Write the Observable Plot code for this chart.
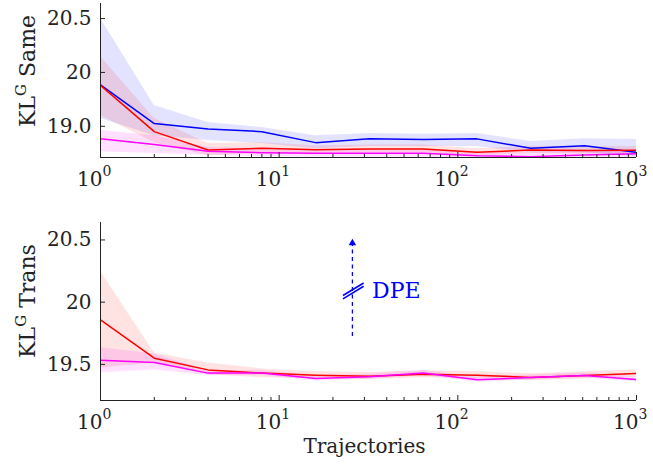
<!DOCTYPE html>
<html><head><meta charset="utf-8">
<script src="https://cdn.jsdelivr.net/npm/d3@7"></script>
<script src="https://cdn.jsdelivr.net/npm/@observablehq/plot@0.6"></script>
<style>
body{margin:0;background:#fff;}
#chart{width:653px;height:465px;}
svg{display:block;}
</style></head><body><div id="chart"></div>
<script>
// ---------- data ----------
const trajectories = [1, 2, 4, 8, 16, 32, 64, 128, 256, 512, 1000];

// Top panel: KL^G Same
const sameBlue   = [19.885, 19.525, 19.474, 19.45, 19.348, 19.383, 19.376, 19.383, 19.295, 19.32, 19.258];
const sameBlueLo = [19.572, 19.413, 19.367, 19.339, 19.292, 19.311, 19.311, 19.311, 19.255, 19.255, 19.218];
const sameBlueHi = [20.503, 19.693, 19.534, 19.488, 19.413, 19.432, 19.427, 19.432, 19.358, 19.385, 19.376];
const sameRed    = [19.88, 19.45, 19.28, 19.295, 19.283, 19.29, 19.29, 19.258, 19.28, 19.275, 19.277];
const sameRedLo  = [19.60, 19.348, 19.227, 19.246, 19.25, 19.256, 19.256, 19.225, 19.247, 19.242, 19.244];
const sameRedHi  = [20.149, 19.572, 19.339, 19.348, 19.318, 19.325, 19.325, 19.292, 19.314, 19.31, 19.312];
const sameMag    = [19.383, 19.33, 19.267, 19.255, 19.25, 19.25, 19.25, 19.227, 19.218, 19.233, 19.246];
const sameMagLo  = [19.264, 19.246, 19.23, 19.218, 19.213, 19.213, 19.213, 19.19, 19.18, 19.196, 19.21];
const sameMagHi  = [19.46, 19.413, 19.304, 19.292, 19.287, 19.287, 19.287, 19.264, 19.255, 19.27, 19.282];

// Bottom panel: KL^G Trans
const transRed   = [19.858, 19.55, 19.456, 19.43, 19.413, 19.405, 19.42, 19.413, 19.395, 19.41, 19.427];
const transRedLo = [19.472, 19.512, 19.416, 19.392, 19.385, 19.378, 19.392, 19.385, 19.368, 19.382, 19.399];
const transRedHi = [20.248, 19.592, 19.512, 19.464, 19.443, 19.435, 19.45, 19.443, 19.425, 19.44, 19.457];
const transMag   = [19.533, 19.515, 19.43, 19.43, 19.386, 19.40, 19.43, 19.376, 19.395, 19.41, 19.378];
const transMagLo = [19.432, 19.456, 19.41, 19.41, 19.366, 19.38, 19.41, 19.356, 19.375, 19.39, 19.358];
const transMagHi = [19.634, 19.584, 19.452, 19.452, 19.408, 19.42, 19.452, 19.398, 19.415, 19.43, 19.4];

// axis ticks / labels
const xMajor = [1, 10, 100, 1000];
const xMinor = [2,3,4,5,6,7,8,9,20,30,40,50,60,70,80,90,200,300,400,500,600,700,800,900];
const yTicks = [19.5, 20, 20.5];
const sameTickLabels  = ["19.0", "20", "20.5"];
const transTickLabels = ["19.5", "20", "20.5"];
const yDomain = [19.21, 20.64];
const xLabel = "Trajectories";

// annotation (bottom panel, data coordinates)
const dpeShaft = [{x: 25.7, y1: 19.728, y2: 20.48}];
const dpeHead  = [{x: 25.7, y: 20.475}];
const dpeBreak = [{x1: 22.75, y1: 20.026, x2: 29.7, y2: 20.128}, {x1: 22.75, y1: 20.054, x2: 29.7, y2: 20.154}];
const dpeLabel = [{x: 33.1, y: 20.032, text: "DPE"}];

// ---------- build ----------
const FONT = "DejaVu Serif";
const W = 653, ML = 100, MR = 17;
const INK = "#222";

function rows(name, color, opacity, y, lo, hi) {
  return {color, opacity, data: trajectories.map((x, i) => ({x, y: y[i], lo: lo[i], hi: hi[i], name}))};
}

function panel({height, marginTop, marginBottom, series, tickLabels, extra = []}) {
  const frameH = height - marginTop - marginBottom;
  const frameW = W - ML - MR;
  const labelMap = new Map(yTicks.map((t, i) => [t, tickLabels[i]]));
  const marks = [];
  for (const s of series) marks.push(Plot.areaY(s.data, {x: "x", y1: "lo", y2: "hi", fill: s.color, fillOpacity: s.opacity, clip: true}));
  for (const s of series) marks.push(Plot.lineY(s.data, {x: "x", y: "y", stroke: s.color, strokeWidth: 1.5, clip: true}));
  marks.push(
    Plot.ruleX([trajectories[0]], {stroke: INK, strokeWidth: 1}),
    Plot.ruleY([yDomain[0]], {stroke: INK, strokeWidth: 1}),
    Plot.tickX(xMajor, {x: d => d, insetTop: frameH - 5, stroke: INK}),
    Plot.tickX(xMinor, {x: d => d, insetTop: frameH - 3, stroke: INK}),
    Plot.tickY(yTicks, {y: d => d, insetRight: frameW - 5, stroke: INK}),
    Plot.text(yTicks, {y: d => d, text: d => labelMap.get(d), frameAnchor: "left", dx: -9, textAnchor: "end", lineAnchor: "middle", fontSize: 20, fill: INK}),
    Plot.text(xMajor, {x: d => d, text: () => "10", frameAnchor: "bottom", dx: 2, dy: 28, textAnchor: "end", lineAnchor: "bottom", fontSize: 20, fill: INK}),
    Plot.text(xMajor, {x: d => d, text: d => String(Math.round(Math.log10(d))), frameAnchor: "bottom", dx: 2, dy: 18, textAnchor: "start", lineAnchor: "bottom", fontSize: 14, fill: INK}),
    ...extra
  );
  return Plot.plot({
    width: W, height, marginTop, marginBottom, marginLeft: ML, marginRight: MR,
    x: {type: "log", domain: [1, 1000], axis: null},
    y: {domain: yDomain, axis: null},
    style: {fontFamily: FONT, background: "white", overflow: "visible"},
    marks
  });
}

function addYLabel(svg, cy, word) {
  const t = d3.select(svg).append("text")
    .attr("transform", `translate(35,${cy}) rotate(-90)`)
    .attr("text-anchor", "middle")
    .attr("fill", INK)
    .style("font-family", FONT)
    .style("font-size", "22px");
  t.append("tspan").text("KL");
  t.append("tspan").attr("dy", -9).style("font-size", "15px").text("G");
  t.append("tspan").attr("dy", 9).text("\u00a0" + word);
}

const topPanel = panel({
  height: 200, marginTop: 3, marginBottom: 43,
  tickLabels: sameTickLabels,
  series: [
    rows("blue", "#0000ff", 0.11, sameBlue, sameBlueLo, sameBlueHi),
    rows("red", "#ff0000", 0.11, sameRed, sameRedLo, sameRedHi),
    rows("mag", "#ff00ff", 0.12, sameMag, sameMagLo, sameMagHi)
  ]
});
addYLabel(topPanel, 71, "Same");

const bottomPanel = panel({
  height: 265, marginTop: 22, marginBottom: 65,
  tickLabels: transTickLabels,
  series: [
    rows("red", "#ff0000", 0.11, transRed, transRedLo, transRedHi),
    rows("mag", "#ff00ff", 0.12, transMag, transMagLo, transMagHi)
  ],
  extra: [
    Plot.link(dpeShaft, {x1: "x", x2: "x", y1: "y1", y2: "y2", stroke: "#0000ff", strokeWidth: 1.3, strokeDasharray: "4,3.5"}),
    Plot.dot(dpeHead, {x: "x", y: "y", symbol: "triangle2", r: 3.6, fill: "#0000ff", stroke: "none"}),
    Plot.link(dpeBreak, {x1: "x1", y1: "y1", x2: "x2", y2: "y2", stroke: "#0000ff", strokeWidth: 1.6}),
    Plot.text(dpeLabel, {x: "x", y: "y", text: "text", textAnchor: "start", lineAnchor: "bottom", fontSize: 22, fill: "#0000ff"}),
    Plot.text([xLabel], {text: d => d, frameAnchor: "bottom", dy: 52, dx: -4, lineAnchor: "bottom", fontSize: 20, fill: INK})
  ]
});
addYLabel(bottomPanel, 101, "Trans");

document.getElementById("chart").append(topPanel, bottomPanel);
</script>
</body></html>
